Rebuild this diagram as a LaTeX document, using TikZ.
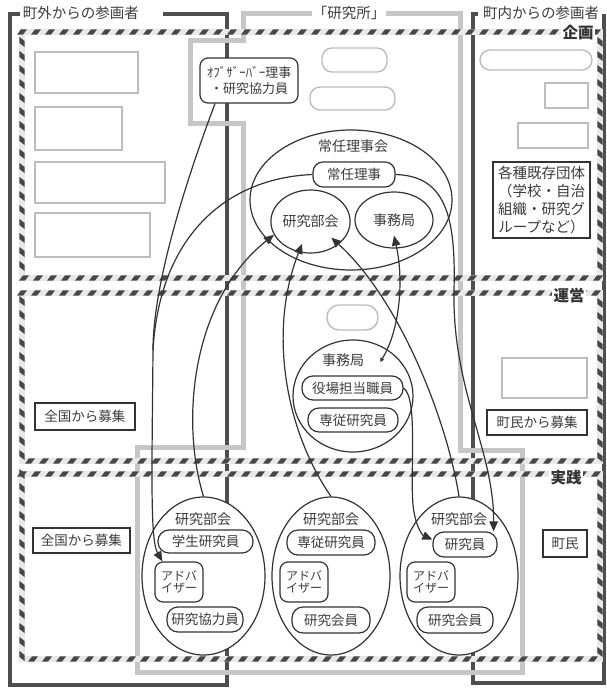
\documentclass[tikz,border=0pt]{standalone}
\usepackage{fontspec}
\setmainfont{Noto Sans CJK JP}
\usetikzlibrary{arrows.meta,shapes.geometric,decorations.markings}
\definecolor{ink}{HTML}{333333}
\definecolor{txt}{HTML}{3C3C3C}
\definecolor{darkframe}{HTML}{4E4E4E}
\definecolor{lightframe}{HTML}{C6C6C6}
\definecolor{faded}{HTML}{BDBDBD}
\newcommand{\myfs}[1]{\fontsize{#1}{#1}\selectfont}
\begin{document}
\begin{tikzpicture}[x=1pt,y=-1pt,
 every node/.style={text=txt},
 rbox/.style={draw=ink, line width=1.2pt, rounded corners=8pt, fill=white, inner sep=0pt, align=center, font=\myfs{13.5}},
 sbox/.style={draw=ink, line width=1.2pt, fill=white, inner sep=0pt, align=center, font=\myfs{13.5}},
 fbox/.style={draw=faded, line width=1.4pt, inner sep=0pt},
 frbox/.style={draw=faded, line width=1.4pt, rounded corners=10pt, inner sep=0pt},
 oval/.style={draw=ink, line width=1.2pt, ellipse, fill=white, inner sep=0pt},
 conn/.style={draw=ink, line width=1.2pt, -{Triangle[length=10pt,width=8.5pt]}},
 plain/.style={draw=ink, line width=1.2pt},
 hazard/.style={draw=gray!18, line width=5.5pt, postaction={decorate, decoration={markings, mark=between positions 0 and 1 step 14pt with {\fill[black!72] (-5pt,-2.6pt) -- (1pt,-2.6pt) -- (5pt,2.6pt) -- (-1pt,2.6pt) -- cycle;}}}},
 seclabel/.style={fill=white, inner sep=1.5pt, font=\myfs{15.5}\bfseries, text=ink},
 frlabel/.style={font=\myfs{14.5}, text=txt, inner sep=1pt},
 lbl/.style={font=\myfs{14}, inner sep=0pt},
]
\useasboundingbox (0,0) rectangle (607,689);
\fill[white] (0,0) rectangle (607,689);

% ---- frames ----
\draw[darkframe, line width=4.5pt] (20,14) -- (10,14) -- (10,685) -- (227,685) -- (227,14) -- (163,14);
\draw[darkframe, line width=4.5pt] (478,14) -- (473,14) -- (473,683) -- (604,683) -- (604,14);
\draw[lightframe, line width=5pt] (312,13) -- (243,13) -- (243,40) -- (190,40) -- (190,123) -- (243,123) -- (243,447) -- (137,447) -- (137,672) -- (522,672) -- (522,450) -- (460,450) -- (460,13) -- (386,13);
\node[frlabel] (lblout) at (81,13) {町外からの参画者};
\node[frlabel] (lblken) at (349,13) {「研究所」};
\node[frlabel] (lblin) at (541,13) {町内からの参画者};

% ---- sections ----
\draw[hazard] (22,32) -- (600,32) -- (600,278) -- (22,278) -- cycle;
\draw[hazard] (22,293) -- (600,293) -- (600,461) -- (22,461) -- cycle;
\draw[hazard] (22,474) -- (600,474) -- (600,659) -- (22,659) -- cycle;
\node[seclabel] (kikaku) at (578,33) {企画};
\node[seclabel] (unei) at (569,296) {運営};
\node[seclabel] (jissen) at (566,478) {実践};

% ---- 企画 ----
\node[fbox, minimum width=103pt, minimum height=41pt] (f1) at (86.5,72.5) {};
\node[fbox, minimum width=87pt, minimum height=43pt] (f2) at (78.5,128.5) {};
\node[fbox, minimum width=130pt, minimum height=41pt] (f3) at (100,182.5) {};
\node[fbox, minimum width=115pt, minimum height=44pt] (f4) at (92.5,235) {};
\node[rbox, minimum width=98pt, minimum height=45pt, font=\myfs{13}] (obs) at (249,80.5) {ｵﾌﾞｻﾞｰﾊﾞｰ理事\\[3pt]・研究協力員};
\node[frbox, minimum width=65pt, minimum height=24pt] (f5) at (354.5,60) {};
\node[frbox, minimum width=85pt, minimum height=23pt] (f6) at (352.5,98.5) {};
\node[oval, minimum width=202pt, minimum height=140pt] (jrk) at (351,200) {};
\node[lbl] (jrklbl) at (353,146) {常任理事会};
\node[rbox, minimum width=82pt, minimum height=25pt, rounded corners=10pt] (jonin) at (354,174.5) {常任理事};
\node[oval, minimum width=75pt, minimum height=63pt, font=\myfs{14}] (ken) at (310.5,221.5) {研究部会};
\node[oval, minimum width=78pt, minimum height=56pt, font=\myfs{14}] (jim) at (394,220) {事務局};
\node[frbox, minimum width=112pt, minimum height=20pt] (f7) at (536,60) {};
\node[fbox, minimum width=43pt, minimum height=25pt] (f8) at (566.5,95.5) {};
\node[fbox, minimum width=70pt, minimum height=25pt] (f9) at (553,135.5) {};
\node[sbox, minimum width=97pt, minimum height=76pt, font=\fontsize{14.5}{18}\selectfont, align=center] (kakushu) at (541.5,200) {各種既存団体\\（学校・自治\\組織・研究グ\\ループなど）};

% ---- 運営 ----
\node[sbox, minimum width=100pt, minimum height=27pt] (zen1) at (85,416.5) {全国から募集};
\node[frbox, minimum width=51pt, minimum height=25pt, rounded corners=12pt] (f10) at (352.5,317.5) {};
\node[oval, minimum width=120pt, minimum height=112pt] (jimu2) at (353,396) {};
\node[lbl] (jimu2lbl) at (343,360) {事務局};
\node[rbox, minimum width=101pt, minimum height=24pt, rounded corners=11pt] (yakuba) at (352.5,388) {役場担当職員};
\node[rbox, minimum width=90pt, minimum height=24pt, rounded corners=11pt] (senju) at (353,420) {専従研究員};
\node[fbox, minimum width=85pt, minimum height=40pt] (f11) at (544.5,378) {};
\node[sbox, minimum width=100pt, minimum height=25pt] (chob) at (537,422.5) {町民から募集};

% ---- 実践 ----
\node[sbox, minimum width=97pt, minimum height=25pt] (zen2) at (81.5,540.5) {全国から募集};
\node[sbox, minimum width=44pt, minimum height=27pt] (chomin) at (565,543.5) {町民};

\node[oval, minimum width=123pt, minimum height=158pt] (e1) at (203.5,576) {};
\node[lbl] (e1lbl) at (203,519) {研究部会};
\node[rbox, minimum width=95pt, minimum height=23pt, rounded corners=11pt] (gakusei) at (205.5,541.5) {学生研究員};
\node[rbox, minimum width=48pt, minimum height=40pt, font=\myfs{12}] (adv1) at (179,582) {アドバ\\イザー};
\node[rbox, minimum width=76pt, minimum height=25pt, rounded corners=11pt] (kyo1) at (205,619.5) {研究協力員};

\node[oval, minimum width=118pt, minimum height=158pt] (e2) at (331,576) {};
\node[lbl] (e2lbl) at (331,519) {研究部会};
\node[rbox, minimum width=88pt, minimum height=25pt, rounded corners=11pt] (senju2) at (331,542.5) {専従研究員};
\node[rbox, minimum width=48pt, minimum height=40pt, font=\myfs{12}] (adv2) at (304,582) {アドバ\\イザー};
\node[rbox, minimum width=78pt, minimum height=26pt, rounded corners=11pt] (kai2) at (331,620) {研究会員};

\node[oval, minimum width=118pt, minimum height=158pt] (e3) at (459,576) {};
\node[lbl] (e3lbl) at (459,519) {研究部会};
\node[rbox, minimum width=64pt, minimum height=25pt, rounded corners=11pt] (kenin) at (465,544.5) {研究員};
\node[rbox, minimum width=48pt, minimum height=40pt, font=\myfs{12}] (adv3) at (431,582) {アドバ\\イザー};
\node[rbox, minimum width=76pt, minimum height=26pt, rounded corners=11pt] (kai3) at (455,620) {研究会員};

% ---- connectors ----
\coordinate (M) at (153,350);
\draw[plain] ([xshift=-34pt]obs.south) .. controls (190,170) and (153,280) .. (M);
\draw[plain] (jonin.west) .. controls (230,178) and (160,232) .. (M);
\draw[conn] (M) .. controls (152,470) and (150,540) .. ([xshift=8pt]adv1.north west);
\draw[conn] (jonin.east) .. controls (445,176) and (456,215) .. (454,290) .. controls (452,390) and (494,450) .. ([xshift=-4pt]kenin.north east);
\draw[conn] (yakuba.east) .. controls (418,398) and (410,470) .. (413,505) .. controls (415,525) and (422,535) .. ([yshift=5pt]kenin.west);
\draw[conn] (e1.north) .. controls (180,420) and (192,300) .. (ken.200);
\draw[conn] (e2.north) .. controls (285,430) and (268,330) .. ([yshift=9pt]ken.255);
\draw[conn] (e3.north) .. controls (447,420) and (400,300) .. ([shift={(4pt,13pt)}]ken.300);
\draw[draw=ink, line width=1.2pt, {Triangle[length=4pt,width=4pt]}-{Triangle[length=10pt,width=8.5pt]}] ([xshift=16pt,yshift=-2pt]jimu2lbl.east) .. controls (400,330) and (404,280) .. ([yshift=13pt]jim.south);
\end{tikzpicture}
\end{document}
